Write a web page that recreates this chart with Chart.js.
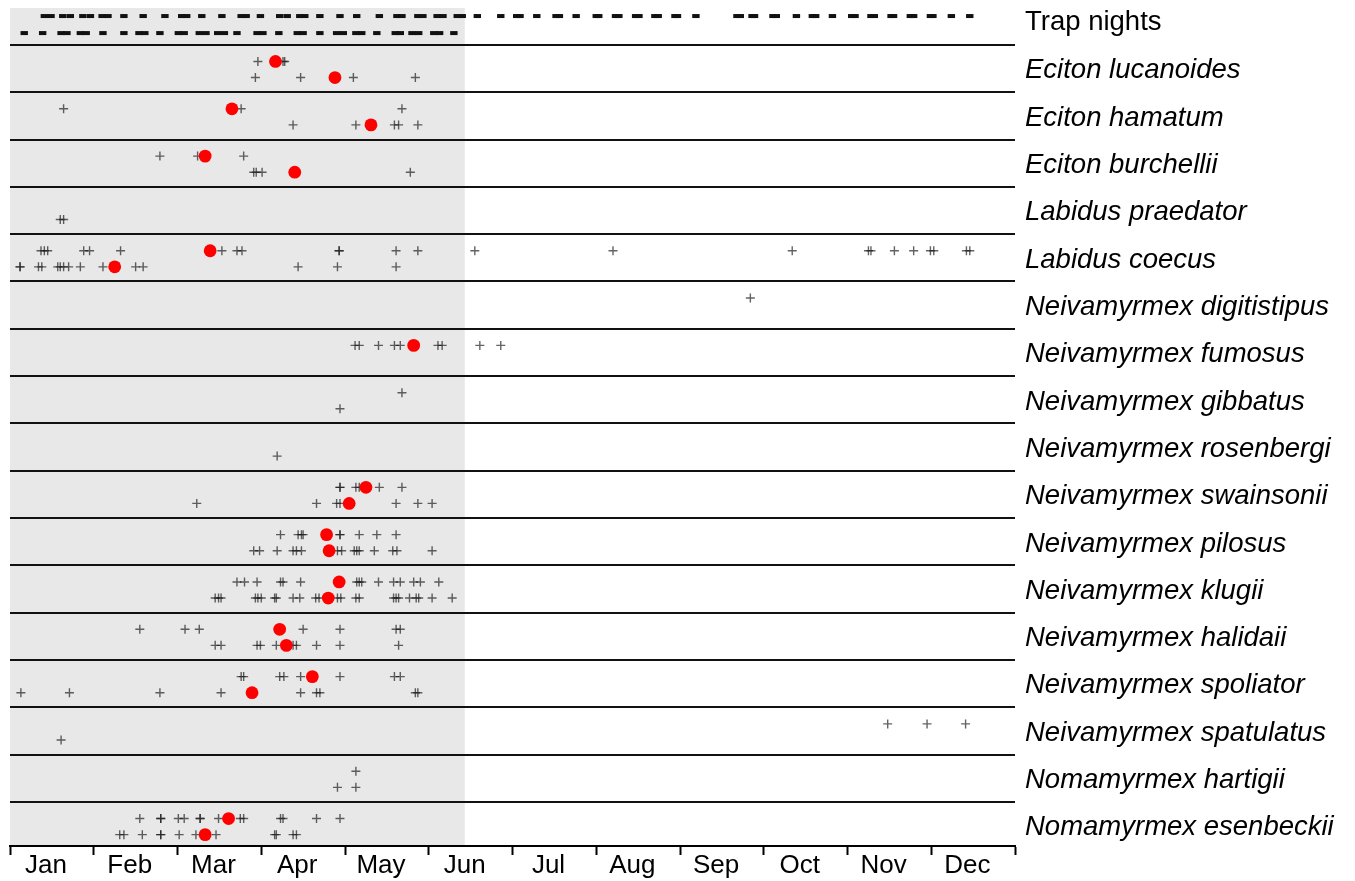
<!DOCTYPE html>
<html><head><meta charset="utf-8">
<script src="https://cdn.jsdelivr.net/npm/chart.js@4"></script>
<style>html,body{margin:0;padding:0;background:#fff}canvas{display:block}</style>
</head><body>
<canvas id="c" width="1355" height="881"></canvas>
<script>
// x values are in months since 1 January (0 = Jan 1, 12 = end of Dec)
const months = ['Jan','Feb','Mar','Apr','May','Jun','Jul','Aug','Sep','Oct','Nov','Dec'];
const trapLabel = 'Trap nights';
const species = ['Eciton lucanoides','Eciton hamatum','Eciton burchellii','Labidus praedator','Labidus coecus',
  'Neivamyrmex digitistipus','Neivamyrmex fumosus','Neivamyrmex gibbatus','Neivamyrmex rosenbergi',
  'Neivamyrmex swainsonii','Neivamyrmex pilosus','Neivamyrmex klugii','Neivamyrmex halidaii',
  'Neivamyrmex spoliator','Neivamyrmex spatulatus','Nomamyrmex hartigii','Nomamyrmex esenbeckii'];

const trapNightsYear1 = [0.41,0.49,0.63,0.72,0.87,0.96,1.10,1.17,1.36,1.59,1.85,2.05,2.11,2.29,2.53,2.76,2.82,2.99,
  3.22,3.31,3.46,3.52,3.70,3.94,4.14,4.41,4.62,4.68,4.87,4.93,5.10,5.17,5.34,5.40,5.58,5.86,6.05,6.09,6.29,6.52,6.56,
  6.76,7.00,7.03,7.23,7.27,7.47,7.51,7.70,7.74,7.94,7.97,8.19,8.68,8.72,8.86,8.89,9.11,9.15,9.39,9.58,9.62,9.82,
  10.05,10.09,10.28,10.32,10.52,10.55,10.75,10.79,10.99,11.02,11.24,11.46];
const trapNightsYear2 = [0.17,0.39,0.61,0.68,0.84,0.91,1.11,1.36,1.54,1.61,1.79,2.01,2.08,2.26,2.34,2.48,2.56,2.71,
  2.95,3.02,3.21,3.43,3.50,3.70,3.90,3.98,4.13,4.20,4.38,4.60,4.66,4.80,4.88,5.06,5.13,5.30];

const recordsYear1 = [
  [2.96,3.26,3.28],
  [0.64,2.76,4.68],
  [1.79,2.24,2.79],
  [],
  [0.37,0.41,0.45,0.88,0.95,1.32,2.53,2.71,2.77,3.93,3.93,4.61,4.87,5.55,7.20,9.34,10.25,10.28,10.56,10.79,10.99,11.03,11.42,11.46],
  [8.84],
  [4.12,4.17,4.40,4.59,4.66,5.11,5.16,5.61,5.86],
  [4.68],
  [],
  [3.94,3.94,4.13,4.17,4.41,4.68],
  [3.23,3.44,3.48,3.50,3.94,3.94,4.17,4.38,4.61],
  [2.71,2.80,2.95,3.23,3.26,3.47,4.14,4.17,4.20,4.40,4.58,4.66,4.82,4.90,5.12],
  [1.55,2.09,2.26,3.50,3.94,4.61,4.66],
  [2.76,2.79,3.22,3.27,3.47,3.94,4.59,4.66],
  [10.48,10.95,11.41],
  [4.13],
  [1.55,1.80,1.80,2.01,2.08,2.27,2.27,2.49,2.75,2.79,3.23,3.26,3.66,3.94]
];
const recordsYear2 = [
  [2.93,3.47,4.10,4.84],
  [3.38,4.13,4.59,4.64,4.87],
  [2.91,2.94,3.01,4.78],
  [0.60,0.64],
  [0.12,0.12,0.34,0.38,0.57,0.60,0.64,0.70,0.84,1.11,1.50,1.59,3.44,3.91,4.61],
  [],
  [],
  [3.94],
  [3.19],
  [2.23,3.66,3.90,3.94,4.61,4.87,5.04],
  [2.91,2.98,3.19,3.38,3.42,3.48,3.91,3.96,4.11,4.14,4.17,4.35,4.57,4.62,5.04],
  [2.45,2.49,2.52,2.93,2.96,3.00,3.16,3.18,3.38,3.46,3.65,3.69,3.91,3.95,4.13,4.17,4.58,4.61,4.64,4.77,4.85,4.88,5.04,5.28],
  [2.45,2.52,2.95,2.99,3.18,3.38,3.42,3.66,3.94,4.64],
  [0.13,0.71,1.79,2.52,3.47,3.66,3.70,4.84,4.87],
  [0.61],
  [3.91,4.13],
  [1.31,1.36,1.58,1.80,1.80,2.02,2.22,2.46,3.16,3.18,3.38,3.42]
];
const meanYear1 = [3.17,2.65,2.33,null,2.39,null,4.82,null,null,4.25,3.78,3.93,3.22,3.61,null,null,2.61];
const meanYear2 = [3.88,4.31,3.40,null,1.25,null,null,null,null,4.05,3.81,3.80,3.30,2.89,null,null,2.33];
const shadedUntil = 5.43;

// row layout (y units: one row per species)
const SUB1 = 0.35, SUB2 = 0.69, TRAP1 = -0.61, TRAP2 = -0.25, TRAP_LABEL = -0.485, LABEL_SHIFT = 0.545;
const Y_TOP = -0.78, Y_BOTTOM = 16.93;
const FONT = '"Liberation Sans", Arial, Helvetica, sans-serif';

function recordPoints(rows, off){ const out=[]; rows.forEach((arr,k)=>arr.forEach(v=>out.push({x:v,y:k+off}))); return out; }
function meanPoints(){ const out=[];
  meanYear1.forEach((v,k)=>{ if(v!=null) out.push({x:v,y:k+SUB1}); });
  meanYear2.forEach((v,k)=>{ if(v!=null) out.push({x:v,y:k+SUB2}); });
  return out; }

const shade = { id:'shade', beforeDraw(chart){
  const {ctx, chartArea:a, scales:{x}} = chart;
  const xr = x.getPixelForValue(shadedUntil);
  ctx.save(); ctx.fillStyle = '#e8e8e8'; ctx.fillRect(a.left, a.top, xr - a.left, a.bottom - a.top); ctx.restore();
}};

const crossStyle = { pointStyle:'cross', pointRadius:4.5, borderColor:'rgba(20,20,20,0.66)', borderWidth:1.4, backgroundColor:'rgba(0,0,0,0)' };
const dashStyle = { pointStyle:'line', pointRadius:3.7, borderColor:'#111', borderWidth:4 };

new Chart(document.getElementById('c'), {
  type:'scatter',
  data:{ datasets:[
    { label:'mean', data:meanPoints(), pointStyle:'circle', pointRadius:6.4, backgroundColor:'#ff0000', borderWidth:0, order:0 },
    Object.assign({ label:'year1', data:recordPoints(recordsYear1, SUB1), order:1 }, crossStyle),
    Object.assign({ label:'year2', data:recordPoints(recordsYear2, SUB2), order:1 }, crossStyle),
    Object.assign({ label:'trap1', data:trapNightsYear1.map(v=>({x:v,y:TRAP1})), order:2 }, dashStyle),
    Object.assign({ label:'trap2', data:trapNightsYear2.map(v=>({x:v,y:TRAP2})), order:2 }, dashStyle)
  ]},
  options:{
    responsive:false, animation:false, events:[],
    plugins:{ legend:{display:false}, tooltip:{enabled:false} },
    layout:{ padding:{ left:10, top:8, right:0, bottom:0 } },
    scales:{
      x:{ type:'linear', position:'bottom', min:0, max:12,
        afterBuildTicks(s){ const t=[]; for(let i=0;i<=12;i++){ t.push({value:i}); if(i<12) t.push({value:i+0.43}); } s.ticks=t; },
        ticks:{ autoSkip:false, maxRotation:0, minRotation:0, padding:-5, color:'#000',
          font:{ family:FONT, size:26 },
          callback(v){ return Number.isInteger(v) ? '' : months[Math.floor(v)]; } },
        grid:{ drawOnChartArea:false, drawTicks:true, tickLength:9, tickWidth:2,
          tickColor:(c)=> (c.tick && Number.isInteger(c.tick.value)) ? '#000' : 'rgba(0,0,0,0)' },
        border:{ display:true, color:'#000', width:2 },
        afterFit(s){ s.height = 35; s.paddingLeft = 0; s.paddingRight = 0; }
      },
      y:{ type:'linear', position:'right', min:Y_TOP, max:Y_BOTTOM, reverse:true,
        afterBuildTicks(s){ const t=[{value:TRAP_LABEL}]; for(let k=0;k<17;k++){ t.push({value:k}); t.push({value:k+LABEL_SHIFT}); } s.ticks=t; },
        ticks:{ autoSkip:false, padding:10, color:'#000',
          font:(c)=>({ family:FONT, size:27.5, style:(c.index===0)?'normal':'italic' }),
          callback(v,i){ if(i===0) return trapLabel; return Number.isInteger(v) ? '' : species[Math.floor(v)]; } },
        grid:{ drawTicks:false, lineWidth:2,
          color:(c)=> (c.tick && Number.isInteger(c.tick.value)) ? '#111' : 'rgba(0,0,0,0)' },
        border:{ display:false },
        afterFit(s){ s.width = 340; s.paddingTop = 0; s.paddingBottom = 0; }
      }
    }
  },
  plugins:[shade]
});
</script>
</body></html>
